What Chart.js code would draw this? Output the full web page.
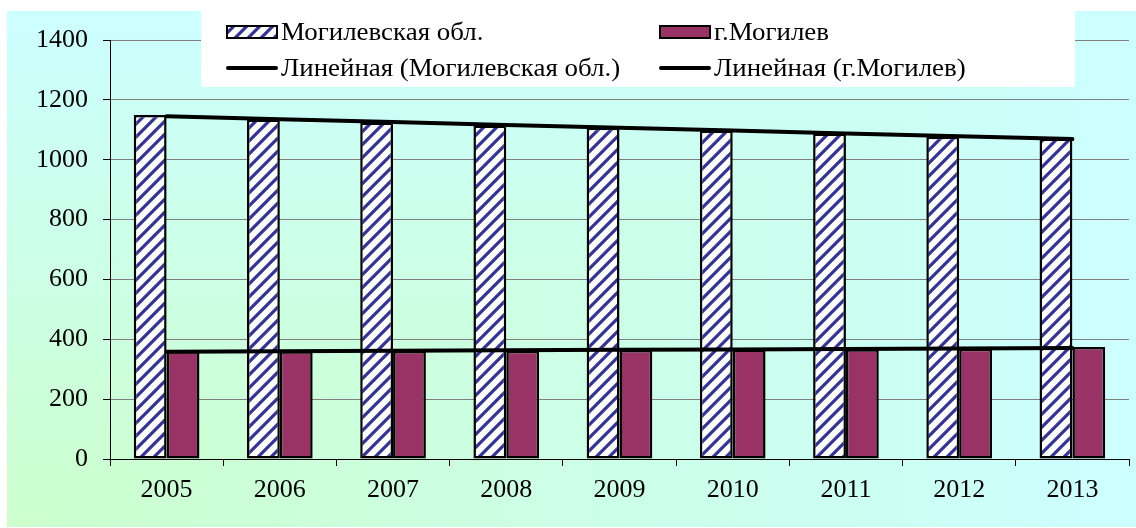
<!DOCTYPE html>
<html>
<head>
<meta charset="utf-8">
<script src="https://cdn.jsdelivr.net/npm/chart.js@4.4.1/dist/chart.umd.min.js"></script>
<style>
  html, body { margin: 0; padding: 0; background: #fff; }
</style>
</head>
<body>
<canvas id="chart" width="1136" height="528"></canvas>
<script>
// values
const years = ['2005', '2006', '2007', '2008', '2009', '2010', '2011', '2012', '2013'];
const regionValues = [1149, 1134, 1124, 1114, 1107, 1098, 1088, 1077, 1071];
const cityValues = [360, 360, 361, 362, 364, 366, 367, 368, 374];
const seriesNames = ['Могилевская обл.', 'г.Могилев'];
const trendNames = ['Линейная (Могилевская обл.)', 'Линейная (г.Могилев)'];
const yMin = 0, yMax = 1400, yStep = 200;

const FONT = "'Liberation Serif', 'Times New Roman', serif";
const GREEN = '#ccffcc';
const CYAN = '#ccffff';
const PLUM = '#993366';

// Excel style linear trendline (least squares over the category index)
function linearTrend(values) {
    const n = values.length;
    let sx = 0, sy = 0, sxy = 0, sxx = 0;
    values.forEach((v, i) => { sx += i; sy += v; sxy += i * v; sxx += i * i; });
    const slope = (n * sxy - sx * sy) / (n * sxx - sx * sx);
    const icpt = (sy - slope * sx) / n;
    return values.map((v, i) => icpt + slope * i);
}

// blue "/" hatch on white
function makeHatch() {
    const size = 13;
    const c = document.createElement('canvas');
    c.width = size; c.height = size;
    const g = c.getContext('2d');
    g.fillStyle = '#fff';
    g.fillRect(0, 0, size, size);
    g.strokeStyle = '#333399';
    g.lineWidth = 3.2;
    g.beginPath();
    for (let k = 0; k <= 2; k++) {
        g.moveTo(-3, size * k + 3);
        g.lineTo(size * k + 3, -3);
    }
    g.stroke();
    return document.getElementById('chart').getContext('2d').createPattern(c, 'repeat');
}
const hatch = makeHatch();

// chart area fill: gradient from the lower left corner
const cornerFill = {
    id: 'cornerFill',
    beforeDraw(chart) {
        const ctx = chart.ctx;
        const x0 = 7, y0 = 11, x1 = chart.width, y1 = chart.height - 1;
        ctx.save();
        ctx.fillStyle = '#fff';
        ctx.fillRect(0, 0, chart.width, chart.height);
        let g = ctx.createLinearGradient(x0, 0, x1, 0);
        g.addColorStop(0, GREEN);
        g.addColorStop(1, CYAN);
        ctx.fillStyle = g;
        ctx.fillRect(x0, y0, x1 - x0, y1 - y0);
        g = ctx.createLinearGradient(0, y1, 0, y0);
        g.addColorStop(0, GREEN);
        g.addColorStop(1, CYAN);
        ctx.fillStyle = g;
        ctx.beginPath();
        ctx.moveTo(x0, y1);
        ctx.lineTo(x0, y0);
        ctx.lineTo(x1, y0);
        ctx.closePath();
        ctx.fill();
        ctx.restore();
    }
};

// 2 x 2 legend in a white box on top of the plot
const boxLegend = {
    id: 'boxLegend',
    afterDraw(chart) {
        const ctx = chart.ctx;
        ctx.save();
        ctx.fillStyle = '#fff';
        ctx.fillRect(201, 11, 874, 76);
        const colX = [227, 660];
        const rowY = [32, 68];
        chart.data.datasets.forEach((ds, i) => {
            const x = colX[i % 2];
            const y = rowY[Math.floor(i / 2)];
            if (ds.type === 'line') {
                ctx.strokeStyle = '#000';
                ctx.lineWidth = 4;
                ctx.lineCap = 'round';
                ctx.beginPath();
                ctx.moveTo(x + 1, y);
                ctx.lineTo(x + 49, y);
                ctx.stroke();
            } else {
                ctx.fillStyle = ds.backgroundColor;
                ctx.fillRect(x, y - 6, 50, 12);
                ctx.strokeStyle = '#000';
                ctx.lineWidth = 2;
                ctx.strokeRect(x, y - 6, 50, 12);
            }
            // text a little wider, like the original
            ctx.save();
            ctx.translate(x + 54, y + 1);
            ctx.scale(1.035, 1);
            ctx.fillStyle = '#000';
            ctx.font = '26px ' + FONT;
            ctx.textBaseline = 'middle';
            ctx.textAlign = 'left';
            ctx.fillText(ds.label, 0, 0);
            ctx.restore();
        });
        ctx.restore();
    }
};

const barStyle = { borderColor: '#000', borderWidth: 2.5, borderSkipped: false,
    barPercentage: 1.0, categoryPercentage: 0.58, order: 2 };
const lineStyle = { type: 'line', borderColor: '#000', borderWidth: 4, pointRadius: 0,
    borderCapStyle: 'round', fill: false, tension: 0, order: 1 };

new Chart(document.getElementById('chart'), {
    type: 'bar',
    data: {
        labels: years,
        datasets: [
            Object.assign({ label: seriesNames[0], data: regionValues, backgroundColor: hatch }, barStyle),
            Object.assign({ label: seriesNames[1], data: cityValues, backgroundColor: PLUM }, barStyle),
            Object.assign({ label: trendNames[0], data: linearTrend(regionValues) }, lineStyle),
            Object.assign({ label: trendNames[1], data: linearTrend(cityValues) }, lineStyle)
        ]
    },
    options: {
        responsive: false,
        animation: false,
        devicePixelRatio: 1,
        layout: { padding: { top: 40, right: 7, bottom: 0, left: 0 } },
        plugins: {
            legend: { display: false },
            tooltip: { enabled: false }
        },
        scales: {
            x: {
                afterFit(scale) { scale.height = 69; },
                grid: { offset: true, drawOnChartArea: false, drawTicks: true, tickLength: 7, color: '#000' },
                border: { color: '#000', width: 1 },
                ticks: { color: '#000', padding: 9, font: { family: FONT, size: 26 } }
            },
            y: {
                min: yMin,
                max: yMax,
                afterFit(scale) { scale.width = 110; },
                grid: { color: '#808080', tickColor: '#000', tickLength: 7, lineWidth: 1 },
                border: { color: '#000', width: 1 },
                ticks: { stepSize: yStep, color: '#000', padding: 15,
                    font: { family: FONT, size: 26 },
                    callback: (v) => String(v) }
            }
        }
    },
    plugins: [cornerFill, boxLegend]
});
</script>
</body>
</html>
